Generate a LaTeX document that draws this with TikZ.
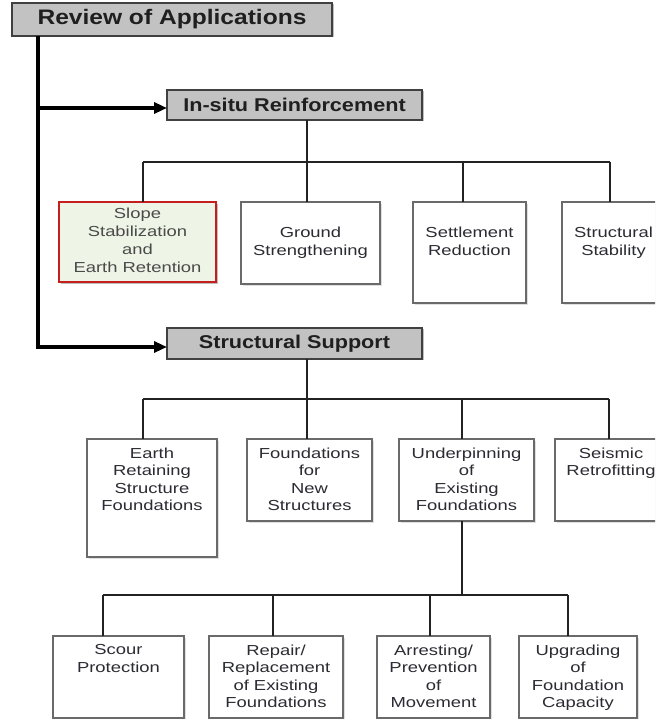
\documentclass[tikz,border=0pt]{standalone}
\usepackage{fontspec}
\setmainfont{Liberation Sans}
\newfontfamily\bodyf[FakeStretch=1.27]{Liberation Sans}
\newfontfamily\headf[FakeStretch=1.17]{Liberation Sans}
\usetikzlibrary{arrows.meta,shadows}
\definecolor{headc}{HTML}{C2C2C2}
\definecolor{txtc}{HTML}{2B2B33}
\definecolor{slopetxt}{HTML}{4A4A4A}
\definecolor{boxc}{HTML}{6A6A6A}
\definecolor{slopefill}{HTML}{EEF4E6}
\definecolor{slopered}{HTML}{C41E1E}
\definecolor{linec}{HTML}{222222}
\begin{document}
\begin{tikzpicture}[x=1pt,y=-1pt,
 headbox/.style={draw=black!75, line width=1.2pt, fill=headc, anchor=north west, inner sep=0pt, outer sep=0pt,
   font=\headf\bfseries\fontsize{18.5}{22}\selectfont, text=black!88,
   drop shadow={shadow xshift=1.5pt, shadow yshift=-1pt, opacity=.5}},
 leaf/.style={draw=boxc, line width=1.2pt, fill=white, anchor=north west, inner sep=0pt, outer sep=0pt,
   drop shadow={shadow xshift=1.6pt, shadow yshift=-1.6pt, opacity=.25}},
 lbl/.style={font=\bodyf\fontsize{14.5}{17.5}\selectfont, text=txtc, align=center, inner sep=0pt, anchor=north},
 trunk/.style={draw=black, line width=3.2pt},
 arr/.style={-{Triangle[length=13pt,width=11pt]}},
 bus/.style={draw=linec, line width=1.8pt},
 stem/.style={draw=linec, line width=2.4pt}
]
\useasboundingbox (0,0) rectangle (655,719);
\clip (0,0) rectangle (655,719);

% headings
\node[headbox, minimum width=320pt, minimum height=33pt, font=\headf\bfseries\fontsize{21}{25}\selectfont] (review) at (12,3) {Review of Applications};
\node[headbox, minimum width=255pt, minimum height=30pt] (insitu) at (167,90) {In-situ Reinforcement};
\node[headbox, minimum width=255pt, minimum height=31pt] (ssup) at (167,328) {Structural Support};

% row 1
\node[leaf, draw=slopered, fill=slopefill, minimum width=157pt, minimum height=80pt,
  drop shadow={shadow xshift=2pt, shadow yshift=-2pt, opacity=.35}] (slope) at (59,202) {};
\node[leaf, minimum width=139pt, minimum height=82pt] (ground) at (241,202) {};
\node[leaf, minimum width=113pt, minimum height=101pt] (settle) at (413,202) {};
\node[leaf, minimum width=103pt, minimum height=101pt] (sstab) at (562,202) {};

\node[lbl, text=slopetxt, font=\bodyf\fontsize{14.5}{18}\selectfont] (tslope) at ([yshift=-5.4pt]slope.north) {Slope\\Stabilization\\and\\Earth Retention};
\node[lbl] (tground) at ([yshift=-25pt]ground.north) {Ground\\Strengthening};
\node[lbl] (tsettle) at ([yshift=-25pt]settle.north) {Settlement\\Reduction};
\node[lbl] (tsstab) at ([yshift=-25pt]sstab.north) {Structural\\Stability};

% row 2
\node[leaf, minimum width=130pt, minimum height=118pt] (earth) at (87,439) {};
\node[leaf, minimum width=125pt, minimum height=82pt] (fnew) at (247,439) {};
\node[leaf, minimum width=135pt, minimum height=82pt] (under) at (399,439) {};
\node[leaf, minimum width=112pt, minimum height=82pt] (seis) at (555,439) {};

\node[lbl] (tearth) at ([yshift=-8.5pt]earth.north) {Earth\\Retaining\\Structure\\Foundations};
\node[lbl] (tfnew) at ([yshift=-8.5pt]fnew.north) {Foundations\\for\\New\\Structures};
\node[lbl] (tunder) at ([yshift=-8.5pt]under.north) {Underpinning\\of\\Existing\\Foundations};
\node[lbl] (tseis) at ([yshift=-8.5pt]seis.north) {Seismic\\Retrofitting};

% row 3
\node[leaf, minimum width=131pt, minimum height=82pt] (scour) at (53,636) {};
\node[leaf, minimum width=134pt, minimum height=82pt] (repair) at (209,636) {};
\node[leaf, minimum width=113pt, minimum height=82pt] (arrest) at (377,636) {};
\node[leaf, minimum width=118pt, minimum height=82pt] (upgr) at (519,636) {};

\node[lbl] (tscour) at ([yshift=-8.5pt]scour.north) {Scour\\Protection};
\node[lbl] (trepair) at ([yshift=-8.5pt]repair.north) {Repair/\\Replacement\\of Existing\\Foundations};
\node[lbl] (tarrest) at ([yshift=-8.5pt]arrest.north) {Arresting/\\Prevention\\of\\Movement};
\node[lbl] (tupgr) at ([yshift=-8.5pt]upgr.north) {Upgrading\\of\\Foundation\\Capacity};

% trunk and arrows
\coordinate (a1) at (38,108);
\coordinate (a2) at (38,347);
\draw[trunk, arr] (review.south -| a1) -- (a2) -- (a2 -| ssup.west);
\draw[trunk, arr] (a1) -- (a1 -| insitu.west);

% row 1 connectors
\coordinate (r1) at (307,162);
\coordinate (j11) at (143,162);
\coordinate (j12) at (307,162);
\coordinate (j13) at (463,162);
\coordinate (j14) at (610,162);
\draw[stem] (insitu.south -| r1) -- (r1);
\draw[bus] (j11) -- (j14);
\draw[stem] (j11) -- (j11 |- slope.north);
\draw[stem] (j12) -- (j12 |- ground.north);
\draw[stem] (j13) -- (j13 |- settle.north);
\draw[stem] (j14) -- (j14 |- sstab.north);

% row 2 connectors
\coordinate (r2) at (307,399);
\coordinate (j21) at (143,399);
\coordinate (j22) at (307,399);
\coordinate (j23) at (462,399);
\coordinate (j24) at (609,399);
\draw[stem] (ssup.south -| r2) -- (r2);
\draw[bus] (j21) -- (j24);
\draw[stem] (j21) -- (j21 |- earth.north);
\draw[stem] (j22) -- (j22 |- fnew.north);
\draw[stem] (j23) -- (j23 |- under.north);
\draw[stem] (j24) -- (j24 |- seis.north);

% row 3 connectors
\coordinate (r3) at (462,595);
\coordinate (j31) at (103,595);
\coordinate (j32) at (273,595);
\coordinate (j33) at (430,595);
\coordinate (j34) at (568,595);
\draw[stem] (under.south -| r3) -- (r3);
\draw[bus] (j31) -- (j34);
\draw[stem] (j31) -- (j31 |- scour.north);
\draw[stem] (j32) -- (j32 |- repair.north);
\draw[stem] (j33) -- (j33 |- arrest.north);
\draw[stem] (j34) -- (j34 |- upgr.north);
\end{tikzpicture}
\end{document}
